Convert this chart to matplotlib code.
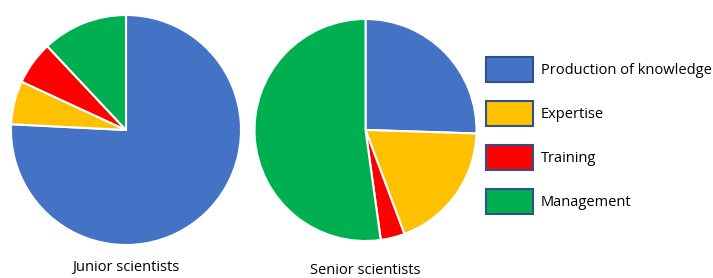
import matplotlib
matplotlib.use('Agg')

import matplotlib.pyplot as plt
from matplotlib.patches import Patch

categories = ['Production of knowledge', 'Expertise', 'Training', 'Management']
junior = [75.8, 6.1, 6.1, 12.0]
senior = [25.5, 18.8, 3.5, 52.2]
titles = ['Junior scientists', 'Senior scientists']
colors = ['#4472C4', '#FFC000', '#FF0000', '#00B050']

plt.rcParams['font.family'] = ['Open Sans', 'DejaVu Sans']

W, H = 713, 278
fig = plt.figure(figsize=(W / 100, H / 100), dpi=100)

def pie_axes(cx, cy, r):
    return fig.add_axes([(cx - r) / W, (H - cy - r) / H, 2 * r / W, 2 * r / H])

for vals, title, (cx, cy, r), ty in zip([junior, senior], titles,
                                         [(126, 130, 115), (365.5, 130, 111)],
                                         [268, 271]):
    ax = pie_axes(cx, cy, r)
    ax.pie(vals, colors=colors, startangle=90, counterclock=False,
           wedgeprops=dict(edgecolor='white', linewidth=1.5))
    ax.set_xlim(-1, 1)
    ax.set_ylim(-1, 1)
    ax.set_aspect('auto')
    ax.axis('off')
    fig.text(cx / W, 1 - ty / H, title, ha='center', va='center', fontsize=10.5)

handles = [Patch(facecolor=c, edgecolor='#2F528F', linewidth=1.5) for c in colors]
fig.legend(handles, categories, loc='upper left', bbox_to_anchor=(473 / W, 1 - 44 / H),
           frameon=False, fontsize=10.5, handlelength=3.2, handleheight=2.2,
           labelspacing=1.35, handletextpad=0.55)

fig.savefig('out.png', dpi=100)
